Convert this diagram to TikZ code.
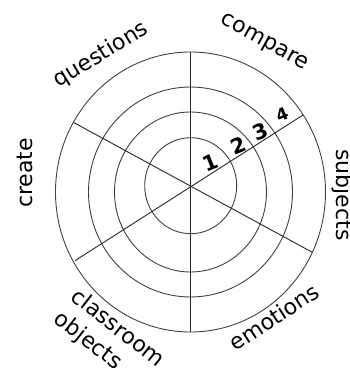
\documentclass[tikz,border=0pt]{standalone}
\usepackage{fontspec}
\setmainfont{DejaVu Sans}
\usepackage{tikz}

\begin{document}
\begin{tikzpicture}[x=1pt, y=1pt,
			ring/.style={draw=black!75, line width=0.9pt},
			speiche/.style={draw=black!85, line width=0.9pt},
			feld/.style={font=\fontsize{22}{28}\selectfont, inner sep=0pt},
			zahl/.style={font=\fontsize{21}{21}\selectfont\bfseries, inner sep=0pt, rotate=22}]
			%Bildbereich
			\useasboundingbox (0,0) rectangle (350,368);
			%Mittelpunkte
			\coordinate (m) at (190.7,182.3);
			\coordinate (o) at (190.5,176);
			%Kreise zeichnen
			\foreach \rx/\ry in {135/140,102/105,76/80} \draw[ring] (o) ellipse ({\rx pt} and {\ry pt});
			\draw[ring] (m) ellipse (46pt and 48pt);
			%Speichen zeichnen
			\coordinate (n) at (190.7,315.7);
			\coordinate (s) at (190.7,36.3);
			\coordinate (no) at (303,253);
			\coordinate (sw) at (75,107.3);
			\coordinate (nw) at (74,245.3);
			\coordinate (so) at (312.3,115.7);
			\draw[speiche] (n) -- (s);
			\draw[speiche] (no) -- (sw);
			\draw[speiche] (nw) -- (so);
			%Felder beschriften
			\node[feld, rotate=31] (questions) at (101,313) {questions};
			\node[feld, rotate=-29] (compare) at (264,325) {compare};
			\node[feld, rotate=-90, anchor=base] (subjects) at (337,173) {subjects};
			\node[feld, rotate=33] (emotions) at (274,51) {emotions};
			\node[feld, rotate=-38, align=left] (classroom) at (109,28) {classroom\\objects};
			\node[feld, rotate=90, anchor=base] (create) at (33,195) {create};
			%Stufen
			\node[zahl] (z1) at (210,205) {1};
			\node[zahl] (z2) at (238,222) {2};
			\node[zahl] (z3) at (260,236) {3};
			\node[zahl, font=\fontsize{17}{17}\selectfont\bfseries] (z4) at (282,253) {4};
		\end{tikzpicture}
\end{document}
